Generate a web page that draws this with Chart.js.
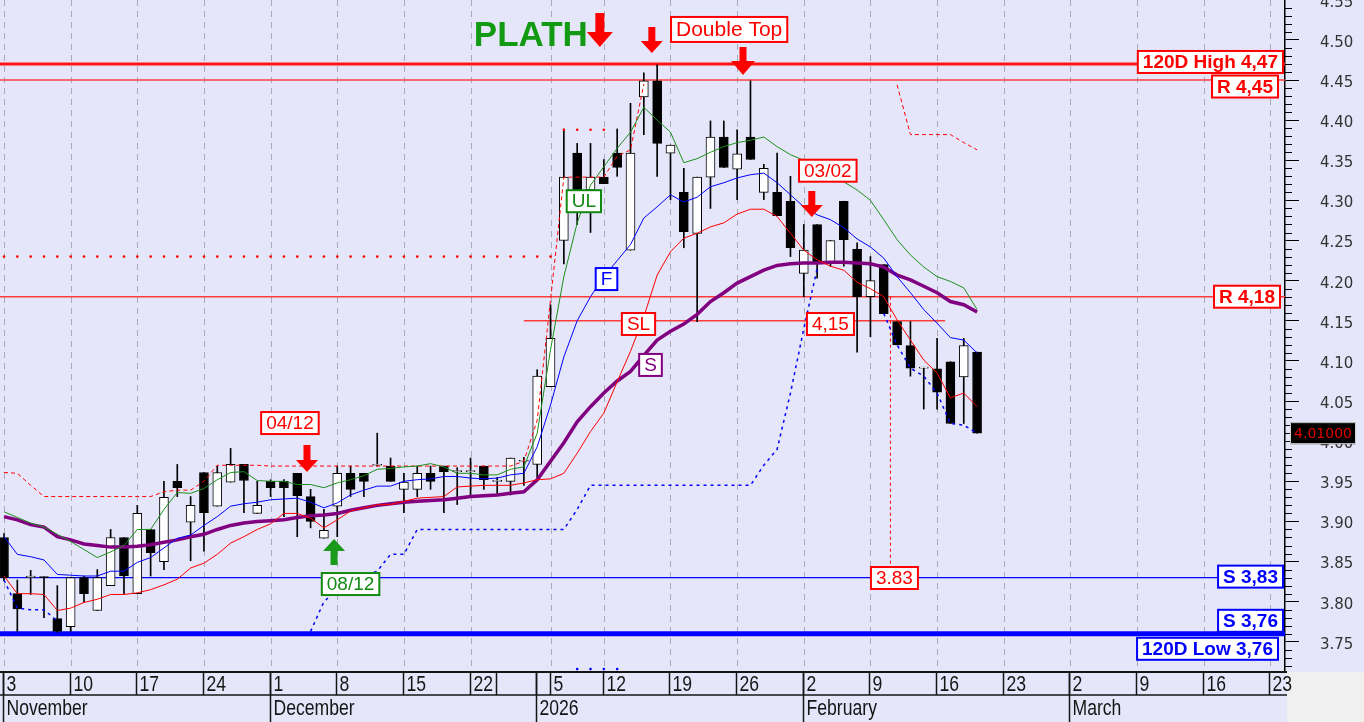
<!DOCTYPE html>
<html>
<head>
<meta charset="utf-8">
<title>Candles</title>
<script src="https://cdn.jsdelivr.net/npm/chart.js@4.4.1/dist/chart.umd.min.js"></script>
<style>
  html, body { margin: 0; padding: 0; background: #e6e6fa; }
  canvas { display: block; }
</style>
</head>
<body>
<canvas id="chart" width="1364" height="722"></canvas>
<script>
'use strict'

// one value per trading session, 3 Nov 2025 .. 19 Feb 2026
var opens = [3.88, 3.81, 3.83, 3.831, 3.779, 3.769, 3.83, 3.789, 3.82, 3.88,
  3.81, 3.89, 3.85, 3.95, 3.899, 3.961, 3.919, 3.949, 3.971, 3.91,
  3.95, 3.95, 3.96, 3.931, 3.879, 3.919, 3.96, 3.96, 3.97, 3.969,
  3.94, 3.94, 3.96, 3.969, 3.962, 3.962, 3.969, 3.95, 3.95, 3.975,
  3.971, 4.068, 4.25, 4.359, 4.313, 4.329, 4.359, 4.238, 4.429, 4.449,
  4.359, 4.31, 4.259, 4.329, 4.379, 4.339, 4.379, 4.31, 4.31, 4.299,
  4.209, 4.27, 4.222, 4.299, 4.239, 4.18, 4.22, 4.149, 4.119, 4.091,
  4.09, 4.099, 4.08, 4.111];
var highs = [3.885, 3.827, 3.839, 3.831, 3.82, 3.83, 3.832, 3.84, 3.89, 3.88,
  3.92, 3.89, 3.95, 3.971, 3.931, 3.961, 3.969, 3.991, 3.971, 3.95,
  3.952, 3.952, 3.96, 3.94, 3.915, 3.969, 3.969, 3.96, 4.01, 3.979,
  3.96, 3.969, 3.969, 3.969, 3.967, 3.979, 3.969, 3.955, 3.979, 3.98,
  4.089, 4.17, 4.389, 4.371, 4.371, 4.351, 4.389, 4.421, 4.459, 4.469,
  4.369, 4.34, 4.329, 4.399, 4.399, 4.388, 4.449, 4.345, 4.359, 4.33,
  4.27, 4.27, 4.25, 4.299, 4.247, 4.23, 4.22, 4.149, 4.149, 4.092,
  4.128, 4.099, 4.128, 4.111];
var lows = [3.826, 3.763, 3.809, 3.78, 3.762, 3.763, 3.799, 3.789, 3.82, 3.81,
  3.81, 3.832, 3.84, 3.931, 3.851, 3.863, 3.919, 3.949, 3.911, 3.91,
  3.931, 3.906, 3.881, 3.892, 3.879, 3.881, 3.931, 3.931, 3.969, 3.95,
  3.911, 3.931, 3.94, 3.911, 3.921, 3.931, 3.94, 3.933, 3.933, 3.945,
  3.952, 4.068, 4.221, 4.27, 4.26, 4.321, 4.33, 4.238, 4.382, 4.33,
  4.301, 4.241, 4.149, 4.29, 4.341, 4.301, 4.351, 4.301, 4.281, 4.23,
  4.18, 4.203, 4.218, 4.218, 4.111, 4.13, 4.159, 4.12, 4.081, 4.04,
  4.04, 4.022, 4.022, 4.01];
var closes = [3.83, 3.791, 3.832, 3.83, 3.763, 3.83, 3.81, 3.83, 3.88, 3.832,
  3.91, 3.861, 3.93, 3.942, 3.92, 3.911, 3.961, 3.971, 3.951, 3.92,
  3.942, 3.942, 3.932, 3.9, 3.889, 3.96, 3.94, 3.95, 3.971, 3.95,
  3.949, 3.96, 3.95, 3.962, 3.962, 3.963, 3.952, 3.951, 3.979, 3.976,
  4.081, 4.128, 4.329, 4.313, 4.329, 4.321, 4.341, 4.359, 4.449, 4.371,
  4.369, 4.261, 4.329, 4.379, 4.341, 4.358, 4.351, 4.34, 4.281, 4.241,
  4.238, 4.222, 4.25, 4.251, 4.18, 4.2, 4.159, 4.12, 4.091, 4.091,
  4.061, 4.022, 4.119, 4.01];

var ulLine = [3.912, 3.905, 3.898, 3.893, 3.884, 3.875, 3.865, 3.855, 3.862, 3.87,
  3.89, 3.89, 3.915, 3.936, 3.935, 3.941, 3.952, 3.961, 3.962, 3.951,
  3.95, 3.95, 3.946, 3.946, 3.942, 3.948, 3.952, 3.957, 3.965, 3.966,
  3.968, 3.969, 3.972, 3.968, 3.96, 3.96, 3.958, 3.958, 3.965, 3.968,
  4.01, 4.114, 4.205, 4.272, 4.319, 4.342, 4.365, 4.385, 4.416, 4.4,
  4.385, 4.347, 4.352, 4.36, 4.367, 4.372, 4.375, 4.379, 4.367, 4.357,
  4.35, 4.343, 4.335, 4.323, 4.313, 4.3, 4.276, 4.251, 4.232, 4.217,
  4.205, 4.199, 4.191, 4.164];
var fastLine = [3.881, 3.859, 3.856, 3.852, 3.834, 3.833, 3.832, 3.832, 3.838, 3.838,
  3.849, 3.855, 3.867, 3.879, 3.883, 3.895, 3.906, 3.919, 3.922, 3.924,
  3.927, 3.928, 3.929, 3.924, 3.917, 3.923, 3.933, 3.939, 3.944, 3.944,
  3.95, 3.952, 3.953, 3.956, 3.956, 3.954, 3.953, 3.954, 3.958, 3.96,
  3.993, 4.045, 4.105, 4.15, 4.18, 4.205, 4.225, 4.245, 4.278, 4.292,
  4.307, 4.298, 4.304, 4.317, 4.322, 4.328, 4.332, 4.334, 4.322, 4.307,
  4.292, 4.282, 4.276, 4.266, 4.252, 4.242, 4.228, 4.205, 4.185, 4.164,
  4.147, 4.129, 4.126, 4.11];
var slLine = [3.832, 3.81, 3.81, 3.809, 3.789, 3.792, 3.799, 3.803, 3.809, 3.809,
  3.811, 3.815, 3.821, 3.828, 3.842, 3.848, 3.859, 3.873, 3.881, 3.89,
  3.897, 3.91, 3.91, 3.904, 3.892, 3.902, 3.913, 3.917, 3.921, 3.921,
  3.925, 3.929, 3.93, 3.931, 3.943, 3.944, 3.945, 3.945, 3.945, 3.948,
  3.952, 3.953, 3.96, 3.985, 4.012, 4.035, 4.074, 4.112, 4.155, 4.207,
  4.236, 4.253, 4.259, 4.267, 4.272, 4.283, 4.289, 4.289, 4.28, 4.259,
  4.238, 4.226, 4.218, 4.213, 4.198, 4.19, 4.18, 4.151, 4.126, 4.101,
  4.085, 4.054, 4.06, 4.043];
var slowLine = [3.906, 3.902, 3.896, 3.893, 3.881, 3.877, 3.872, 3.87, 3.868, 3.868,
  3.869, 3.871, 3.874, 3.877, 3.881, 3.884, 3.89, 3.895, 3.898, 3.9,
  3.901, 3.902, 3.905, 3.907, 3.908, 3.91, 3.914, 3.917, 3.92, 3.922,
  3.924, 3.925, 3.926, 3.927, 3.929, 3.931, 3.932, 3.933, 3.935, 3.937,
  3.952, 3.975, 3.998, 4.024, 4.043, 4.06, 4.075, 4.087, 4.107, 4.126,
  4.137, 4.146, 4.158, 4.174, 4.185, 4.197, 4.205, 4.213, 4.219, 4.221,
  4.222, 4.222, 4.223, 4.223, 4.222, 4.221, 4.217, 4.207, 4.201, 4.193,
  4.185, 4.174, 4.17, 4.161];
var upperStop = [3.961, 3.96, 3.945, 3.931, 3.931, 3.931, 3.931, 3.931, 3.931, 3.931,
  3.931, 3.931, 3.937, 3.939, 3.939, 3.95, 3.97, 3.97, 3.97, 3.97,
  3.969, 3.969, 3.969, 3.969, 3.969, 3.969, 3.969, 3.969, 3.969, 3.969,
  3.969, 3.969, 3.969, 3.969, 3.969, 3.969, 3.969, 3.969, 3.969, 3.975,
  4.026, 4.176, 4.329, 4.329, 4.329, 4.329, 4.355, 4.363, 4.445, null,
  null, null, null, null, null, null, null, null, null, null,
  null, null, null, null, null, null, null, 4.444, 4.382, 4.382,
  4.382, 4.382, 4.372, 4.363];
var lowerStop = [3.827, 3.792, 3.79, 3.79, 3.776, null, null, null, null, null,
  null, null, null, null, null, null, null, null, null, null,
  null, null, null, 3.763, 3.8, 3.815, 3.825, 3.832, 3.838, 3.859,
  3.859, 3.89, 3.89, 3.89, 3.89, 3.89, 3.89, 3.89, 3.89, 3.89,
  3.89, 3.89, 3.89, 3.915, 3.945, 3.945, 3.945, 3.945, 3.945, 3.945,
  3.945, 3.945, 3.945, 3.945, 3.945, 3.945, 3.945, 3.97, 3.99, 4.06,
  4.14, 4.215, null, null, null, null, 4.159, 4.12, 4.091, 4.081,
  4.06, 4.022, 4.02, 4.01];
var dotsHigh = [4.23, 4.23, 4.23, 4.23, 4.23, 4.23, 4.23, 4.23, 4.23, 4.23,
  4.23, 4.23, 4.23, 4.23, 4.23, 4.23, 4.23, 4.23, 4.23, 4.23,
  4.23, 4.23, 4.23, 4.23, 4.23, 4.23, 4.23, 4.23, 4.23, 4.23,
  4.23, 4.23, 4.23, 4.23, 4.23, 4.23, 4.23, 4.23, 4.23, 4.23,
  4.23, 4.23, 4.388, 4.388, 4.388, 4.388, null, null, null, null,
  null, null, null, null, null, null, null, null, null, null,
  null, null, null, null, null, null, null, null, null, null,
  null, null, null, null];
var dotsLow = [null, null, null, null, null, null, null, null, null, null,
  null, null, null, null, null, null, null, null, null, null,
  null, null, null, null, null, null, null, null, null, null,
  null, null, null, null, null, null, null, null, null, null,
  null, null, null, 3.716, 3.716, 3.716, 3.716, null, null, null,
  null, null, null, null, null, null, null, null, null, null,
  null, null, null, null, null, null, null, null, null, null,
  null, null, null, null];

var lastPrice = 4.01;
var levels = [4.47, 4.45, 4.18, 3.83, 3.76];
var levelLabels = ['120D High 4,47', 'R 4,45', 'R 4,18', 'S 3,83', '120D Low 3,76'];
var stopLevel = 4.15;
var targetLevel = 3.83;

var yTicks = [3.75, 3.80, 3.85, 3.90, 3.95, 4.00, 4.05, 4.10, 4.15, 4.20, 4.25, 4.30, 4.35, 4.40, 4.45, 4.50, 4.55];
var dayTicks = [0, 5, 10, 15, 20, 25, 30, 35, 37, 40, 41, 45, 50, 55, 60, 65, 70, 75, 80, 85, 90, 95];
var dayLabels = ['3', '10', '17', '24', '1', '8', '15', '22', '', '', '5', '12', '19', '26', '2', '9', '16', '23', '2', '9', '16', '23'];
var monthTicks = [0, 20, 40, 60, 80];
var monthLabels = ['November', 'December', '2026', 'February', 'March'];

// ---- layout / styling ----
var xMin = -0.3, xMax = 96.1;
var yMin = 3.7124, yMax = 4.5497;
var bg = '#e6e6fa';
var RED = '#ff0000', BLUE = '#0000ff', GREEN = '#118a11', PURPLE = '#800080';

var levelStyle = [
  {color: '#ff1414', width: 3, dy: -2, right: 1283, text: RED},
  {color: '#ff3c3c', width: 1.5, dy: 6.5, right: 1278, text: RED},
  {color: '#ff3c3c', width: 1.5, dy: 0, right: 1280, text: RED},
  {color: BLUE, width: 1.2, dy: -1, right: 1283, text: BLUE},
  {color: BLUE, width: 5, dy: 15, right: 1278, text: BLUE}
];

var notes = [
  {text: 'UL', x: 43.5, y: 4.299, color: GREEN},
  {text: 'F', x: 45.2, y: 4.202, color: BLUE},
  {text: 'SL', x: 47.6, y: 4.146, color: RED},
  {text: 'S', x: 48.5, y: 4.095, color: PURPLE},
  {text: '4,15', x: 62.0, y: 4.146, color: RED},
  {text: '03/02', x: 61.8, y: 4.337, color: RED},
  {text: '04/12', x: 21.45, y: 4.0226, color: RED},
  {text: '08/12', x: 26.0, y: 3.822, color: GREEN},
  {text: '3.83', x: 66.8, y: 3.8295, color: RED}
];

var arrows = [
  {x: 44.7, top: 4.5335, bottom: 4.4911, w: 26, shaft: 9, head: 15, color: RED, up: false},
  {x: 48.6, top: 4.516, bottom: 4.4836, w: 22, shaft: 7, head: 12, color: RED, up: false},
  {x: 55.44, top: 4.4911, bottom: 4.4562, w: 24, shaft: 7, head: 14, color: RED, up: false},
  {x: 60.6, top: 4.3117, bottom: 4.2793, w: 22, shaft: 7, head: 12, color: RED, up: false},
  {x: 22.73, top: 3.9952, bottom: 3.9616, w: 22, shaft: 7, head: 12, color: RED, up: false},
  {x: 24.76, top: 3.8781, bottom: 3.8457, w: 22, shaft: 7, head: 12, color: '#1a9a1a', up: true}
];

Chart.defaults.font.family = "'Liberation Sans', Arial, sans-serif";

function points(arr) {
  var out = [];
  for (var i = 0; i < arr.length; i++) {
    out.push({x: i, y: arr[i]});
  }
  return out;
}

var bodies = [], wicks = [], bodyColors = [];
for (var i = 0; i < opens.length; i++) {
  bodies.push({x: i, y: [opens[i], closes[i]]});
  wicks.push({x: i, y: [lows[i], highs[i]]});
  bodyColors.push(closes[i] >= opens[i] ? '#ffffff' : '#000000');
}

function boxLabel(c, text, cx, cy, color, font, h) {
  c.font = font;
  var w = c.measureText(text).width + 10;
  c.fillStyle = '#ffffff';
  c.fillRect(cx - w / 2, cy - h / 2, w, h);
  c.strokeStyle = color;
  c.lineWidth = 2;
  c.strokeRect(cx - w / 2, cy - h / 2, w, h);
  c.fillStyle = color;
  c.textAlign = 'center';
  c.textBaseline = 'middle';
  c.fillText(text, cx, cy + 1);
  return w;
}

function drawArrow(c, a, xs, ys) {
  var cx = xs.getPixelForValue(a.x);
  var top = ys.getPixelForValue(a.top);
  var bot = ys.getPixelForValue(a.bottom);
  c.fillStyle = a.color;
  c.beginPath();
  if (!a.up) {
    c.moveTo(cx - a.shaft / 2, top);
    c.lineTo(cx + a.shaft / 2, top);
    c.lineTo(cx + a.shaft / 2, bot - a.head);
    c.lineTo(cx + a.w / 2, bot - a.head);
    c.lineTo(cx, bot);
    c.lineTo(cx - a.w / 2, bot - a.head);
    c.lineTo(cx - a.shaft / 2, bot - a.head);
  } else {
    c.moveTo(cx - a.shaft / 2, bot);
    c.lineTo(cx + a.shaft / 2, bot);
    c.lineTo(cx + a.shaft / 2, top + a.head);
    c.lineTo(cx + a.w / 2, top + a.head);
    c.lineTo(cx, top);
    c.lineTo(cx - a.w / 2, top + a.head);
    c.lineTo(cx - a.shaft / 2, top + a.head);
  }
  c.closePath();
  c.fill();
}

function narrowText(c, text, x, y, sx) {
  c.save();
  c.translate(x, y);
  c.scale(sx, 1);
  c.fillText(text, 0, 0);
  c.restore();
}

var decor = {
  id: 'decor',
  beforeDraw: function(chart) {
    var c = chart.ctx, a = chart.chartArea;
    c.save();
    c.fillStyle = bg;
    c.fillRect(0, 0, chart.width, chart.height);
    c.fillStyle = '#f0f0f0';
    c.fillRect(a.right + 2, a.bottom, chart.width - a.right, chart.height - a.bottom);
    c.restore();
  },
  beforeDatasetsDraw: function(chart) {
    var c = chart.ctx, a = chart.chartArea;
    var xs = chart.scales.x, ys = chart.scales.y;
    c.save();
    // weekly grid
    c.strokeStyle = '#a9a9b8';
    c.lineWidth = 1;
    c.setLineDash([6, 5]);
    for (var i = 0; i < dayTicks.length; i++) {
      if (dayLabels[i] === '') continue;
      var gx = Math.round(xs.getPixelForValue(dayTicks[i])) + 0.5;
      c.beginPath();
      c.moveTo(gx, a.top);
      c.lineTo(gx, a.bottom);
      c.stroke();
    }
    c.setLineDash([]);
    // support / resistance
    for (var k = 0; k < levels.length; k++) {
      var ly = ys.getPixelForValue(levels[k]);
      c.strokeStyle = levelStyle[k].color;
      c.lineWidth = levelStyle[k].width;
      c.beginPath();
      c.moveTo(a.left, ly);
      c.lineTo(a.right, ly);
      c.stroke();
    }
    // stop line
    var sy = ys.getPixelForValue(stopLevel);
    c.strokeStyle = '#ff3c3c';
    c.lineWidth = 1.5;
    c.beginPath();
    c.moveTo(xs.getPixelForValue(39), sy);
    c.lineTo(xs.getPixelForValue(70.6), sy);
    c.stroke();
    // target projection
    var tx = xs.getPixelForValue(66.5);
    c.strokeStyle = RED;
    c.lineWidth = 1;
    c.setLineDash([3, 3]);
    c.beginPath();
    c.moveTo(tx, ys.getPixelForValue(levels[2]));
    c.lineTo(tx, ys.getPixelForValue(targetLevel) - 11);
    c.stroke();
    c.restore();
  },
  afterDraw: function(chart) {
    var c = chart.ctx, a = chart.chartArea;
    var xs = chart.scales.x, ys = chart.scales.y;
    c.save();
    // minor ticks
    c.strokeStyle = '#000';
    c.lineWidth = 1;
    for (var v = 372; v <= 454; v++) {
      if (v % 5 === 0) continue;
      var ty = Math.round(ys.getPixelForValue(v / 100)) + 0.5;
      c.beginPath();
      c.moveTo(a.right, ty);
      c.lineTo(a.right + 7, ty);
      c.stroke();
    }
    // level labels
    var lf = "bold 19px 'Liberation Sans', Arial, sans-serif";
    for (var k = 0; k < levels.length; k++) {
      c.font = lf;
      var w = c.measureText(levelLabels[k]).width + 10;
      boxLabel(c, levelLabels[k], levelStyle[k].right - w / 2, ys.getPixelForValue(levels[k]) + levelStyle[k].dy, levelStyle[k].text, lf, 22);
    }
    c.font = lf;
    var w2 = c.measureText('S 3,76').width + 10;
    boxLabel(c, 'S 3,76', 1283 - w2 / 2, ys.getPixelForValue(levels[4]) - 13, BLUE, lf, 22);
    // callouts
    var nf = "19px 'Liberation Sans', Arial, sans-serif";
    for (var n = 0; n < notes.length; n++) {
      boxLabel(c, notes[n].text, xs.getPixelForValue(notes[n].x), ys.getPixelForValue(notes[n].y), notes[n].color, nf, 22);
    }
    boxLabel(c, 'Double Top', xs.getPixelForValue(54.4), ys.getPixelForValue(4.513), RED, "21px 'Liberation Sans', Arial, sans-serif", 25);
    for (var m = 0; m < arrows.length; m++) {
      drawArrow(c, arrows[m], xs, ys);
    }
    // PLATH
    c.font = "bold 35px 'Liberation Sans', Arial, sans-serif";
    c.fillStyle = '#139a13';
    c.textAlign = 'right';
    c.textBaseline = 'alphabetic';
    c.fillText('PLATH', xs.getPixelForValue(arrows[0].x) - 12, ys.getPixelForValue(4.4924));
    // last price box
    var py = ys.getPixelForValue(lastPrice);
    c.fillStyle = '#000';
    c.fillRect(a.right + 5, py - 11, 66, 22);
    c.strokeStyle = '#d0d0d0';
    c.lineWidth = 1;
    c.strokeRect(a.right + 5.5, py - 10.5, 65, 21);
    c.fillStyle = '#e00000';
    c.font = "14px 'DejaVu Sans', sans-serif";
    c.textAlign = 'center';
    c.textBaseline = 'middle';
    c.fillText(lastPrice.toFixed(5), a.right + 38, py + 1);
    // date axis
    var top = a.bottom, mid = a.bottom + 23, bot = chart.height;
    c.strokeStyle = '#151515';
    c.lineWidth = 2;
    c.beginPath();
    c.moveTo(0, top);
    c.lineTo(a.right + 2, top);
    c.stroke();
    c.lineWidth = 1.5;
    c.beginPath();
    c.moveTo(0, mid);
    c.lineTo(a.right + 2, mid);
    c.stroke();
    c.fillStyle = '#151515';
    c.textAlign = 'left';
    c.textBaseline = 'middle';
    c.font = "22px 'Liberation Sans', Arial, sans-serif";
    for (var d = 0; d < dayTicks.length; d++) {
      var dx = Math.round(xs.getPixelForValue(dayTicks[d])) - 0.5;
      if (dx < 2) dx = 2;
      c.beginPath();
      c.moveTo(dx, top);
      c.lineTo(dx, mid);
      c.stroke();
      narrowText(c, dayLabels[d], dx + 3, top + 12.5, 0.8);
    }
    for (var q = 0; q < monthTicks.length; q++) {
      var mx = Math.round(xs.getPixelForValue(monthTicks[q])) - 0.5;
      if (mx < 2) mx = 2;
      c.beginPath();
      c.moveTo(mx, top);
      c.lineTo(mx, bot);
      c.stroke();
      narrowText(c, monthLabels[q], mx + 3, mid + 14, 0.8);
    }
    c.restore();
  }
};

var chart = new Chart(document.getElementById('chart'), {
  type: 'bar',
  data: {
    datasets: [
      {type: 'line', data: points(slowLine), borderColor: PURPLE, borderWidth: 3.5, pointRadius: 0, order: 4},
      {type: 'line', data: points(ulLine), borderColor: '#1b8f1b', borderWidth: 1, pointRadius: 0, order: 3},
      {type: 'line', data: points(fastLine), borderColor: BLUE, borderWidth: 1, pointRadius: 0, order: 2},
      {type: 'line', data: points(slLine), borderColor: RED, borderWidth: 1, pointRadius: 0, order: 1},
      {type: 'line', data: points(upperStop), borderColor: RED, borderWidth: 1, borderDash: [4, 3], pointRadius: 0, spanGaps: false, order: 5},
      {type: 'line', data: points(lowerStop), borderColor: BLUE, borderWidth: 1.5, borderDash: [3, 4], pointRadius: 0, spanGaps: false, order: 5},
      {type: 'line', data: points(dotsHigh), showLine: false, pointRadius: 1.3, pointBorderWidth: 0, pointBackgroundColor: RED, order: 6},
      {type: 'line', data: points(dotsLow), showLine: false, pointRadius: 1.3, pointBorderWidth: 0, pointBackgroundColor: BLUE, order: 6},
      {type: 'bar', data: bodies, backgroundColor: bodyColors, borderColor: '#000', borderWidth: 1,
        borderSkipped: false, barThickness: 9, minBarLength: 1, grouped: false, order: 10},
      {type: 'bar', data: wicks, backgroundColor: '#000', borderWidth: 0, barThickness: 1, grouped: false, order: 11}
    ]
  },
  options: {
    responsive: false,
    animation: false,
    devicePixelRatio: 1,
    layout: {autoPadding: false, padding: {left: 0, right: 0, top: 0, bottom: 50}},
    plugins: {legend: {display: false}, tooltip: {enabled: false}},
    scales: {
      x: {type: 'linear', min: xMin, max: xMax, offset: false, display: false},
      y: {
        position: 'right',
        min: yMin,
        max: yMax,
        afterBuildTicks: function(s) {
          s.ticks = yTicks.map(function(v) { return {value: v}; });
        },
        afterFit: function(s) {
          s.width = 79;
          s.paddingTop = 0;
          s.paddingBottom = 0;
        },
        ticks: {
          padding: 21,
          labelOffset: 3,
          color: '#333',
          font: {family: "'DejaVu Sans', sans-serif", size: 15},
          callback: function(v) { return v.toFixed(2); }
        },
        grid: {drawOnChartArea: false, tickLength: 14, color: '#000', lineWidth: 1},
        border: {color: '#000', width: 1.5}
      }
    }
  },
  plugins: [decor]
});
</script>
</body>
</html>
